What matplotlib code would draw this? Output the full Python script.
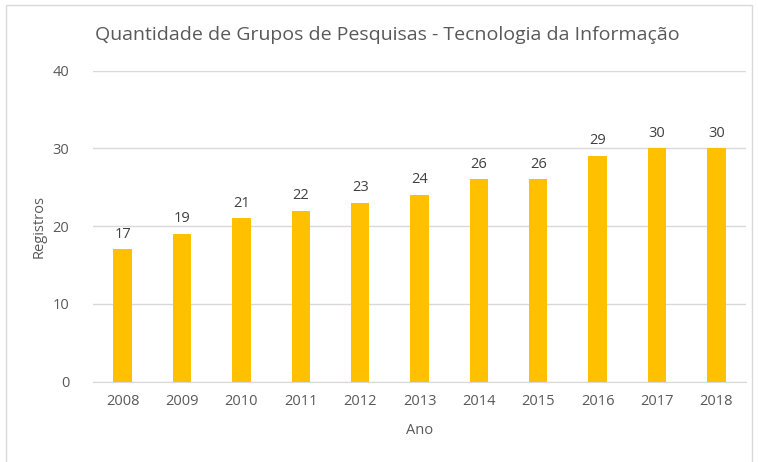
import matplotlib
matplotlib.use("Agg")
import matplotlib.pyplot as plt
from matplotlib.patches import Rectangle

years = ["2008", "2009", "2010", "2011", "2012", "2013", "2014", "2015", "2016", "2017", "2018"]
registros = [17, 19, 21, 22, 23, 24, 26, 26, 29, 30, 30]

W, H = 758, 462
TEXT = "#595959"
plt.rcParams["font.family"] = ["Open Sans", "DejaVu Sans"]

fig = plt.figure(figsize=(W / 100, H / 100), dpi=100)
ax = fig.add_axes([93 / W, 1 - 381.5 / H, (746 - 93) / W, (381.5 - 70.7) / H])

x = range(len(years))
bars = ax.bar(x, registros, width=0.31, color="#FFC000", zorder=3)
for xi, v in zip(x, registros):
    ax.text(xi, v + 1.0, str(v), ha="center", va="bottom", fontsize=10.5, color="#404040")

ax.set_xlim(-0.5, len(years) - 0.5)
ax.set_ylim(0, 40)
ax.set_yticks([0, 10, 20, 30, 40])
ax.set_xticks(list(x))
ax.set_xticklabels(years)
ax.tick_params(length=0, labelsize=10.5, labelcolor=TEXT)
ax.tick_params(axis="x", pad=9)
ax.tick_params(axis="y", pad=17)
ax.grid(axis="y", color="#D9D9D9", linewidth=1, zorder=0)
for side in ("top", "right", "left"):
    ax.spines[side].set_visible(False)
ax.spines["bottom"].set_color("#D9D9D9")
ax.set_xlabel("Ano", fontsize=10.5, color=TEXT, labelpad=10)
ax.set_ylabel("Registros", fontsize=10.5, color=TEXT, labelpad=4)

fig.text(95 / W, 1 - 35 / H, "Quantidade de Grupos de Pesquisas - Tecnologia da Informação",
         fontsize=14, color=TEXT, ha="left", va="center")

fig.patches.append(Rectangle((6 / W, -0.05), (752 - 6) / W, 1 - 5 / H + 0.05,
                             transform=fig.transFigure, fill=False,
                             edgecolor="#D9D9D9", linewidth=1))

fig.savefig("out.png", dpi=100)
